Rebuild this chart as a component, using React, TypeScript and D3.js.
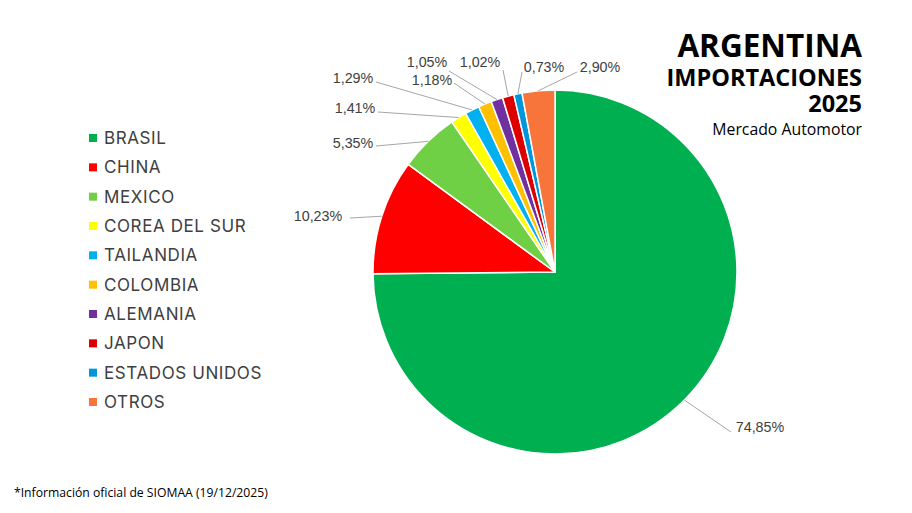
import React from "react";
import * as d3 from "d3";

const countries = ["BRASIL", "CHINA", "MEXICO", "COREA DEL SUR", "TAILANDIA", "COLOMBIA", "ALEMANIA", "JAPON", "ESTADOS UNIDOS", "OTROS"];
const shares = [74.85, 10.23, 5.35, 1.41, 1.29, 1.18, 1.05, 1.02, 0.73, 2.9];
const colors = ["#00B050", "#FF0000", "#6FCF45", "#FFFF00", "#00B0F0", "#FFC000", "#7030A0", "#DC0000", "#0096DB", "#F7743A"];

// label layout (relative to pie centre): text centre and leader line end
const labelText: [number, number][] = [
  [205, 155], [-237, -56], [-202, -129], [-200, -164], [-202, -194],
  [-123, -192], [-128, -210], [-75, -210], [-11, -205], [45, -205],
];
const labelLineEnd: [number, number][] = [
  [176, 160], [-205, -54], [-179, -126], [-177, -160], [-179, -190],
  [-101, -189], [-106, -201], [-52, -202], [-33, -200], [22, -200],
];

const W = 912;
const H = 513;
const CX = 555;
const CY = 272;
const R = 182;

const fmt = (v: number) => v.toFixed(2).replace(".", ",") + "%";

export default function App() {
  const pie = d3.pie<number>().sort(null).value((d) => d)(shares);
  const arc = d3.arc<d3.PieArcDatum<number>>().innerRadius(0).outerRadius(R);
  const legendY = d3.scaleLinear().domain([0, countries.length - 1]).range([138, 402]);

  return (
    <svg width={W} height={H} style={{ position: "absolute", left: 0, top: 0, background: "#fff" }}>
      <rect width={W} height={H} fill="#fff" />
      <g transform={`translate(${CX},${CY})`}>
        {pie.map((p, i) => (
          <path key={i} d={arc(p) || ""} fill={colors[i]} stroke="#fff" strokeWidth={1.5} strokeLinejoin="round" />
        ))}
        {pie.map((p, i) => {
          const a = (p.startAngle + p.endAngle) / 2;
          const sx = R * Math.sin(a);
          const sy = -R * Math.cos(a);
          const [ex, ey] = labelLineEnd[i];
          const [tx, ty] = labelText[i];
          return (
            <g key={"l" + i}>
              <line x1={sx} y1={sy} x2={ex} y2={ey} stroke="#A6A6A6" strokeWidth={1} />
              <text x={tx} y={ty} dy="0.35em" textAnchor="middle" fontFamily="Liberation Sans, Arial, sans-serif" fontSize={14.3} fill="#404040">
                {fmt(shares[i])}
              </text>
            </g>
          );
        })}
      </g>
      <g>
        {countries.map((c, i) => (
          <g key={c} transform={`translate(89,${legendY(i)})`}>
            <rect x={0} y={-4} width={8} height={8} fill={colors[i]} />
            <text x={15} y={0} dy="0.36em" fontFamily="Inter, sans-serif" fontSize={17} letterSpacing={0.6} fill="#404040">
              {c}
            </text>
          </g>
        ))}
      </g>
      <g fontFamily="'Open Sans', sans-serif" textAnchor="end" fill="#000">
        <text x={862} y={57} fontSize={31.5} fontWeight={700}>ARGENTINA</text>
        <text x={862} y={86} fontSize={23.5} fontWeight={700}>IMPORTACIONES</text>
        <text x={862} y={112} fontSize={23.5} fontWeight={700}>2025</text>
        <text x={862} y={135} fontSize={15.8}>Mercado Automotor</text>
      </g>
      <text x={14} y={497} fontFamily="'Open Sans', sans-serif" fontSize={12.2} fill="#000">
        *Información oficial de SIOMAA (19/12/2025)
      </text>
    </svg>
  );
}
